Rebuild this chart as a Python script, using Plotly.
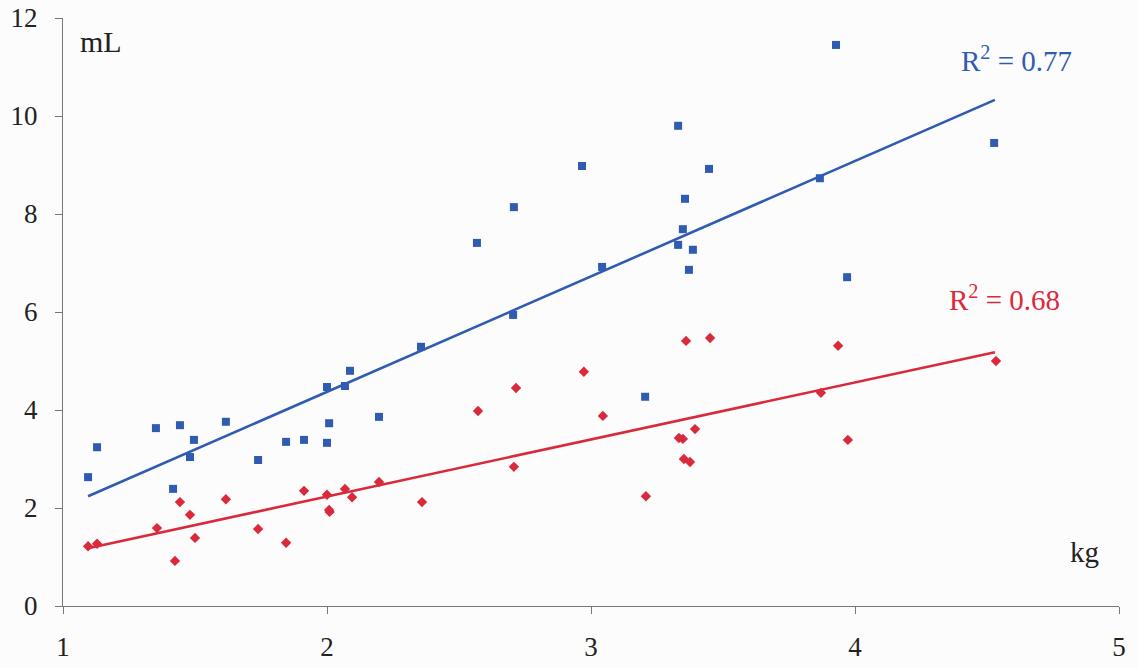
import numpy as np
import plotly.graph_objects as go

# Data
blue_x = [1.095, 1.129, 1.352, 1.417, 1.443, 1.481, 1.496, 1.617, 1.739, 1.845, 1.913,
          2.0, 2.008, 2.0, 2.068, 2.087, 2.197, 2.356, 2.568, 2.705, 2.708, 2.966,
          3.042, 3.205, 3.33, 3.356, 3.348, 3.33, 3.386, 3.371, 3.447, 3.867, 3.928,
          3.97, 4.527]
blue_y = [2.63, 3.24, 3.63, 2.39, 3.69, 3.04, 3.39, 3.76, 2.98, 3.35, 3.39,
          4.47, 3.73, 3.33, 4.49, 4.80, 3.86, 5.29, 7.41, 5.94, 8.14, 8.98,
          6.92, 4.27, 9.80, 8.31, 7.69, 7.37, 7.27, 6.86, 8.92, 8.73, 11.45,
          6.71, 9.45]

red_x = [1.095, 1.129, 1.356, 1.424, 1.443, 1.481, 1.5, 1.617, 1.739, 1.845, 1.913,
         2.0, 2.008, 2.01, 2.068, 2.095, 2.197, 2.36, 2.572, 2.708, 2.716, 2.973,
         3.045, 3.208, 3.333, 3.348, 3.36, 3.352, 3.375, 3.394, 3.451, 3.871, 3.936,
         3.973, 4.534]
red_y = [1.22, 1.27, 1.59, 0.92, 2.12, 1.86, 1.39, 2.18, 1.57, 1.29, 2.35,
         2.27, 1.96, 1.92, 2.39, 2.22, 2.53, 2.12, 3.98, 2.84, 4.45, 4.78,
         3.88, 2.24, 3.43, 3.41, 5.41, 3.00, 2.94, 3.61, 5.47, 4.35, 5.31,
         3.39, 5.00]

# Trend line endpoints
blue_trend_x = [1.095, 4.53]
blue_trend_y = [2.24, 10.33]
red_trend_x = [1.095, 4.53]
red_trend_y = [1.18, 5.18]

x_ticks = [1, 2, 3, 4, 5]
y_ticks = [0, 2, 4, 6, 8, 10, 12]

BLUE = "#2f5cb0"
RED = "#d92a3c"
FONT = "Liberation Serif, Times New Roman, serif"

fig = go.Figure()
fig.add_trace(go.Scatter(x=blue_trend_x, y=blue_trend_y, mode="lines",
                         line=dict(color=BLUE, width=2.6), hoverinfo="skip"))
fig.add_trace(go.Scatter(x=red_trend_x, y=red_trend_y, mode="lines",
                         line=dict(color=RED, width=2.6), hoverinfo="skip"))
fig.add_trace(go.Scatter(x=blue_x, y=blue_y, mode="markers",
                         marker=dict(symbol="square", size=8, color=BLUE)))
fig.add_trace(go.Scatter(x=red_x, y=red_y, mode="markers",
                         marker=dict(symbol="diamond", size=8, color=RED)))

fig.add_annotation(x=4.61, y=11.16, xref="x", yref="y", text="R<sup>2</sup> = 0.77",
                   showarrow=False, xanchor="center", yanchor="middle",
                   font=dict(family=FONT, size=29, color=BLUE))
fig.add_annotation(x=4.568, y=6.29, xref="x", yref="y", text="R<sup>2</sup> = 0.68",
                   showarrow=False, xanchor="center", yanchor="middle",
                   font=dict(family=FONT, size=29, color=RED))
fig.add_annotation(x=1.055, y=11.9, xref="x", yref="y", text="mL",
                   showarrow=False, xanchor="left", yanchor="top",
                   font=dict(family=FONT, size=30, color="#222"))
fig.add_annotation(x=4.87, y=1.1, xref="x", yref="y", text="kg",
                   showarrow=False, xanchor="center", yanchor="middle",
                   font=dict(family=FONT, size=29, color="#222"))

fig.update_layout(
    width=1138, height=668,
    margin=dict(l=63, r=19, t=18, b=62, autoexpand=False),
    paper_bgcolor="#fdfcfc", plot_bgcolor="#fdfcfc",
    showlegend=False,
    font=dict(family=FONT, size=27, color="#222"),
    xaxis=dict(range=[1, 5], tickvals=x_ticks, ticktext=[str(v) for v in x_ticks],
               showgrid=False, zeroline=False, showline=True, linecolor="#777",
               linewidth=1.2, ticks="outside", ticklen=7, tickcolor="#777",
               ticklabelstandoff=9, automargin=False),
    yaxis=dict(range=[0, 12], tickvals=y_ticks, ticktext=[str(v) for v in y_ticks],
               showgrid=False, zeroline=False, showline=True, linecolor="#777",
               linewidth=1.2, ticks="outside", ticklen=7, tickcolor="#777",
               ticklabelstandoff=12, automargin=False),
)

fig.write_html("out.html", config={"displayModeBar": False},
               post_script="document.body.style.margin='0';")
